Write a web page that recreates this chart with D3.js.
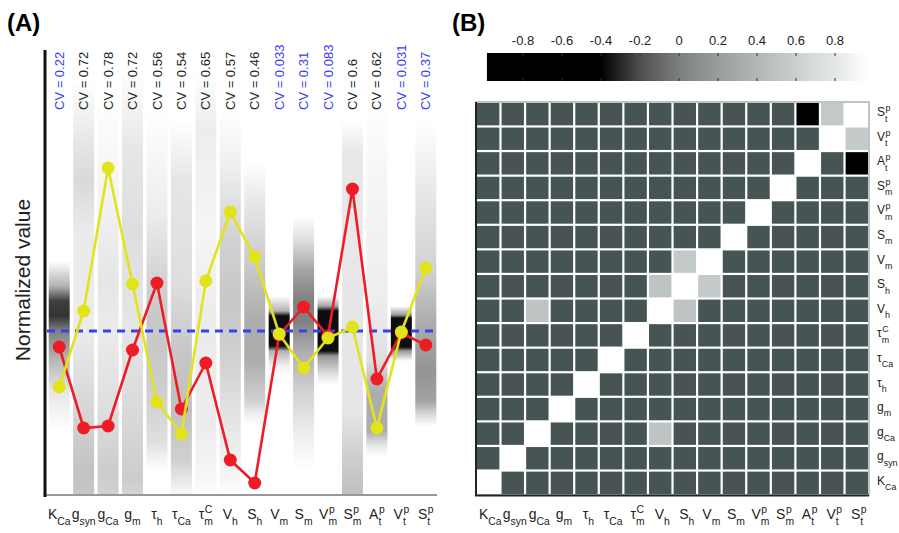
<!DOCTYPE html>
<html>
<head>
<meta charset="utf-8">
<script src="https://cdn.jsdelivr.net/npm/d3@7"></script>
<style>
  body { margin: 0; background: #fff; }
  svg { display: block; font-family: "Liberation Sans", Arial, sans-serif; }
</style>
</head>
<body>
<div id="chart"></div>
<script>
// parameter names and how their symbols are written
const params = ['KCa', 'gsyn', 'gCa', 'gm', 'th', 'tCa', 'tmC', 'Vh', 'Sh', 'Vm', 'Sm', 'Vpm', 'Spm', 'Apt', 'Vpt', 'Spt'];
const labelBase = ['K', 'g', 'g', 'g', 'τ', 'τ', 'τ', 'V', 'S', 'V', 'S', 'V', 'S', 'A', 'V', 'S'];
const labelSub = ['Ca', 'syn', 'Ca', 'm', 'h', 'Ca', 'm', 'h', 'h', 'm', 'm', 'm', 'm', 't', 't', 't'];
const labelSup = ['', '', '', '', '', '', 'C', '', '', '', '', 'p', 'p', 'p', 'p', 'p'];

// coefficient of variation above each column (blue = low / well constrained)
const cvValues = [0.22, 0.72, 0.78, 0.72, 0.56, 0.54, 0.65, 0.57, 0.46, 0.033, 0.31, 0.083, 0.6, 0.62, 0.031, 0.37];
const cvBlue = [true, false, false, false, false, false, false, false, false, true, true, true, false, false, true, true];

// two example solutions (normalized, 0 = reference)
const redValues = [-0.16, -0.97, -0.95, -0.19, 0.48, -0.78, -0.32, -1.29, -1.52, -0.04, 0.24, -0.05, 1.42, -0.48, -0.02, -0.14];
const yellowValues = [-0.56, 0.20, 1.63, 0.47, -0.71, -1.03, 0.50, 1.19, 0.74, -0.03, -0.37, -0.07, 0.04, -0.97, -0.01, 0.63];

// density of accepted solutions along each column: [value, darkness]
const densities = [
  [[0.7, 0], [0.45, 0.3], [0.3, 0.75], [0.15, 0.8], [0.0, 0.5], [-0.3, 0.28], [-0.6, 0.1], [-1.0, 0]],
  [[2.5, 0], [2.0, 0.08], [1.5, 0.15], [1.0, 0.08], [0, 0.08], [-0.8, 0.16], [-1.4, 0.24], [-1.64, 0.22]],
  [[2.4, 0], [1.5, 0.04], [0.5, 0.1], [0, 0.08], [-0.8, 0.13], [-1.4, 0.2], [-1.64, 0.18]],
  [[2.6, 0], [1.8, 0.1], [1.0, 0.13], [0, 0.1], [-1.0, 0.16], [-1.5, 0.2], [-1.64, 0.16]],
  [[2.2, 0], [1.2, 0.07], [0.6, 0.16], [0.1, 0.22], [-0.5, 0.2], [-1.1, 0.13], [-1.3, 0.04], [-1.4, 0]],
  [[2.1, 0], [1.5, 0.1], [0.5, 0.13], [-0.2, 0.22], [-0.8, 0.25], [-1.3, 0.18], [-1.6, 0.04]],
  [[2.6, 0], [2.0, 0.07], [1.0, 0.04], [0, 0.08], [-1.0, 0.07], [-1.5, 0.03], [-1.64, 0]],
  [[2.2, 0], [1.6, 0.07], [0.9, 0.18], [0.3, 0.22], [-0.3, 0.18], [-1.0, 0.09], [-1.5, 0.03], [-1.64, 0]],
  [[1.7, 0], [1.3, 0.09], [0.6, 0.22], [0.1, 0.32], [-0.3, 0.32], [-0.7, 0.18], [-0.85, 0.05], [-0.95, 0]],
  [[0.35, 0], [0.2, 0.3], [0.15, 0.95], [-0.15, 0.95], [-0.2, 0.3], [-0.35, 0.05], [-0.45, 0]],
  [[1.15, 0], [0.9, 0.13], [0.6, 0.36], [0.3, 0.5], [0.1, 0.5], [-0.2, 0.32], [-0.6, 0.18], [-1.0, 0.07], [-1.4, 0]],
  [[0.35, 0], [0.25, 0.35], [0.2, 0.95], [-0.2, 0.95], [-0.25, 0.4], [-0.45, 0.1], [-0.55, 0]],
  [[2.1, 0], [1.8, 0.09], [1.0, 0.09], [0, 0.1], [-0.8, 0.1], [-1.2, 0.18], [-1.64, 0.25]],
  [[2.3, 0], [1.5, 0.04], [0.3, 0.07], [-0.3, 0.13], [-0.6, 0.32], [-1.0, 0.32], [-1.15, 0.09], [-1.25, 0]],
  [[0.25, 0], [0.16, 0.4], [0.13, 0.95], [-0.16, 0.95], [-0.2, 0.4], [-0.3, 0]],
  [[2.1, 0], [1.4, 0.09], [0.6, 0.18], [0.1, 0.32], [-0.4, 0.42], [-0.7, 0.36], [-0.85, 0.13], [-0.95, 0]]
];

// significant pairwise correlations (everything else not significant)
const corrPairs = [
  ['Sh', 'Vm', 0.55],
  ['Vh', 'Sh', 0.5],
  ['gCa', 'Vh', 0.5],
  ['Vpt', 'Spt', 0.55],
  ['Apt', 'Spt', -0.9]
];
const colorbarTicks = [-0.8, -0.6, -0.4, -0.2, 0, 0.2, 0.4, 0.6, 0.8];

const W = 899, H = 533;
const svg = d3.select('#chart').append('svg').attr('width', W).attr('height', H);

// symbol with subscript / superscript
function symbolLabel(parent, x, y, i, anchor, size) {
  const g = parent.append('g');
  const b = g.append('text').attr('x', 0).attr('y', 0)
    .style('font-size', size + 'px').attr('fill', '#222').text(labelBase[i]);
  const bw = b.node().getComputedTextLength();
  const s = g.append('text').attr('x', bw).attr('y', size * 0.45)
    .style('font-size', (size * 0.74) + 'px').attr('fill', '#222').text(labelSub[i]);
  let total = bw + s.node().getComputedTextLength();
  if (labelSup[i]) {
    const p = g.append('text').attr('x', bw + 0.5).attr('y', -size * 0.42)
      .style('font-size', (size * 0.74) + 'px').attr('fill', '#222').text(labelSup[i]);
    total = Math.max(total, bw + 0.5 + p.node().getComputedTextLength());
  }
  const left = anchor === 'middle' ? x - total / 2 : x;
  g.attr('transform', `translate(${left},${y})`);
}

/* ---------- panel A ---------- */
const x = d3.scaleBand().domain(params).range([47, 438]);
const y = d3.scaleLinear().domain([-1.64, 2.81]).range([495, 50]);
const cx = d => x(d) + x.bandwidth() / 2;

const defs = svg.append('defs');
params.forEach((p, i) => {
  const grad = defs.append('linearGradient').attr('id', 'dens-' + p)
    .attr('gradientUnits', 'userSpaceOnUse')
    .attr('x1', 0).attr('x2', 0).attr('y1', y(2.81)).attr('y2', y(-1.64));
  densities[i].forEach(([v, dk]) => {
    const g = Math.round(255 * (1 - dk));
    grad.append('stop')
      .attr('offset', (y(v) - y(2.81)) / (y(-1.64) - y(2.81)))
      .attr('stop-color', d3.rgb(g, g, g));
  });
});

const A = svg.append('g');
A.selectAll('rect.strip').data(params).enter()
  .append('rect').attr('class', 'strip')
  .attr('x', d => cx(d) - 10.5)
  .attr('width', 21)
  .attr('y', y(2.81))
  .attr('height', y(-1.64) - y(2.81))
  .attr('fill', d => `url(#dens-${d})`);

// axes
A.append('line').attr('x1', 45).attr('x2', 437).attr('y1', 495).attr('y2', 495)
  .attr('stroke', '#999').attr('stroke-width', 2);
A.append('line').attr('x1', 45).attr('x2', 45).attr('y1', 50).attr('y2', 497)
  .attr('stroke', '#111').attr('stroke-width', 3);

// reference level
A.append('line').attr('x1', 47).attr('x2', 438).attr('y1', y(0)).attr('y2', y(0))
  .attr('stroke', '#3344ee').attr('stroke-width', 3).attr('stroke-dasharray', '8,6');

const line = d3.line().x((d, i) => cx(params[i])).y(d => y(d));
[[redValues, '#ee1c24'], [yellowValues, '#e3e31c']].forEach(([vals, col]) => {
  A.append('path').datum(vals).attr('d', line)
    .attr('fill', 'none').attr('stroke', col).attr('stroke-width', 2.6);
  A.append('g').selectAll('circle').data(vals).enter()
    .append('circle')
    .attr('cx', (d, i) => cx(params[i]))
    .attr('cy', d => y(d))
    .attr('r', 6.5)
    .attr('fill', col);
});

// CV labels
A.selectAll('text.cv').data(cvValues).enter()
  .append('text').attr('class', 'cv')
  .attr('transform', (d, i) => `translate(${cx(params[i])},110) rotate(-90)`)
  .attr('dy', '0.35em')
  .style('font-size', '13px')
  .attr('fill', (d, i) => cvBlue[i] ? '#3b3bf5' : '#222')
  .text(d => 'CV = ' + d);

A.append('text')
  .attr('transform', 'translate(30,280) rotate(-90)')
  .attr('text-anchor', 'middle')
  .style('font-size', '21px').attr('fill', '#222')
  .text('Normalized value');

params.forEach((p, i) => symbolLabel(A, cx(p), 519, i, 'middle', 14));

svg.append('text').attr('x', 7).attr('y', 31)
  .style('font-size', '24px').style('font-weight', 'bold').text('(A)');

/* ---------- panel B ---------- */
const B = svg.append('g');
svg.append('text').attr('x', 452).attr('y', 31)
  .style('font-size', '24px').style('font-weight', 'bold').text('(B)');

const color = d3.scaleLinear()
  .domain([-1, -0.4, -0.2, 0, 0.2, 0.4, 0.6, 0.8, 0.95, 1])
  .range(['#000', '#000', '#4e4e4e', '#7c7f7f', '#979c9c', '#b1b7b7', '#cad0d0', '#e3e7e7', '#fdfdfd', '#fff'])
  .clamp(true);

// colour bar
const cb = d3.scaleLinear().domain([-1, 1]).range([484, 874]);
const cbGrad = defs.append('linearGradient').attr('id', 'cbar')
  .attr('gradientUnits', 'userSpaceOnUse')
  .attr('x1', cb(-1)).attr('x2', cb(1)).attr('y1', 0).attr('y2', 0);
d3.range(-1, 1.0001, 0.05).forEach(v => {
  cbGrad.append('stop').attr('offset', (v + 1) / 2).attr('stop-color', color(v));
});
B.append('rect').attr('x', cb(-0.985)).attr('y', 53)
  .attr('width', cb(0.97) - cb(-0.985)).attr('height', 28)
  .attr('fill', 'url(#cbar)');
const cbAxis = B.append('g');
cbAxis.selectAll('text').data(colorbarTicks).enter()
  .append('text')
  .attr('x', d => cb(d)).attr('y', 45)
  .attr('text-anchor', 'middle')
  .style('font-size', '13px').attr('fill', '#222')
  .text(d => d);
cbAxis.selectAll('line.top').data(colorbarTicks).enter()
  .append('line').attr('class', 'top')
  .attr('x1', d => cb(d)).attr('x2', d => cb(d)).attr('y1', 53).attr('y2', 56)
  .attr('stroke', '#333');
cbAxis.selectAll('line.bot').data(colorbarTicks).enter()
  .append('line').attr('class', 'bot')
  .attr('x1', d => cb(d)).attr('x2', d => cb(d)).attr('y1', 78).attr('y2', 81)
  .attr('stroke', '#333');

// correlation matrix
const mx = d3.scaleBand().domain(params).range([477, 868]).paddingInner(0.09);
const my = d3.scaleBand().domain(params.slice().reverse()).range([103, 494]).paddingInner(0.09);

const corr = new Map();
params.forEach(p => corr.set(p + '|' + p, 1));
corrPairs.forEach(([a, b, v]) => { corr.set(a + '|' + b, v); corr.set(b + '|' + a, v); });

const cells = [];
params.forEach(r => params.forEach(c => cells.push({ r, c, v: corr.get(r + '|' + c) })));

B.append('rect').attr('x', 476).attr('y', 102).attr('width', 393).attr('height', 393)
  .attr('fill', '#fff').attr('stroke', '#aab2b2').attr('stroke-width', 1.5);
B.selectAll('rect.cell').data(cells).enter()
  .append('rect').attr('class', 'cell')
  .attr('x', d => mx(d.c)).attr('y', d => my(d.r))
  .attr('width', mx.bandwidth()).attr('height', my.bandwidth())
  .attr('fill', d => d.v === undefined ? '#465454' : color(d.v));
B.append('line').attr('x1', 476).attr('x2', 476).attr('y1', 102).attr('y2', 496)
  .attr('stroke', '#222').attr('stroke-width', 2);
B.append('line').attr('x1', 475).attr('x2', 869).attr('y1', 495.5).attr('y2', 495.5)
  .attr('stroke', '#222').attr('stroke-width', 2);

params.forEach((p, i) => symbolLabel(B, mx(p) + mx.bandwidth() / 2 + 2, 519, i, 'middle', 14));
// row labels kept small enough to stay inside the page
params.forEach((p, i) => symbolLabel(B, 877, my(p) + my.bandwidth() / 2 + 2, i, 'start', 12));
</script>
</body>
</html>
